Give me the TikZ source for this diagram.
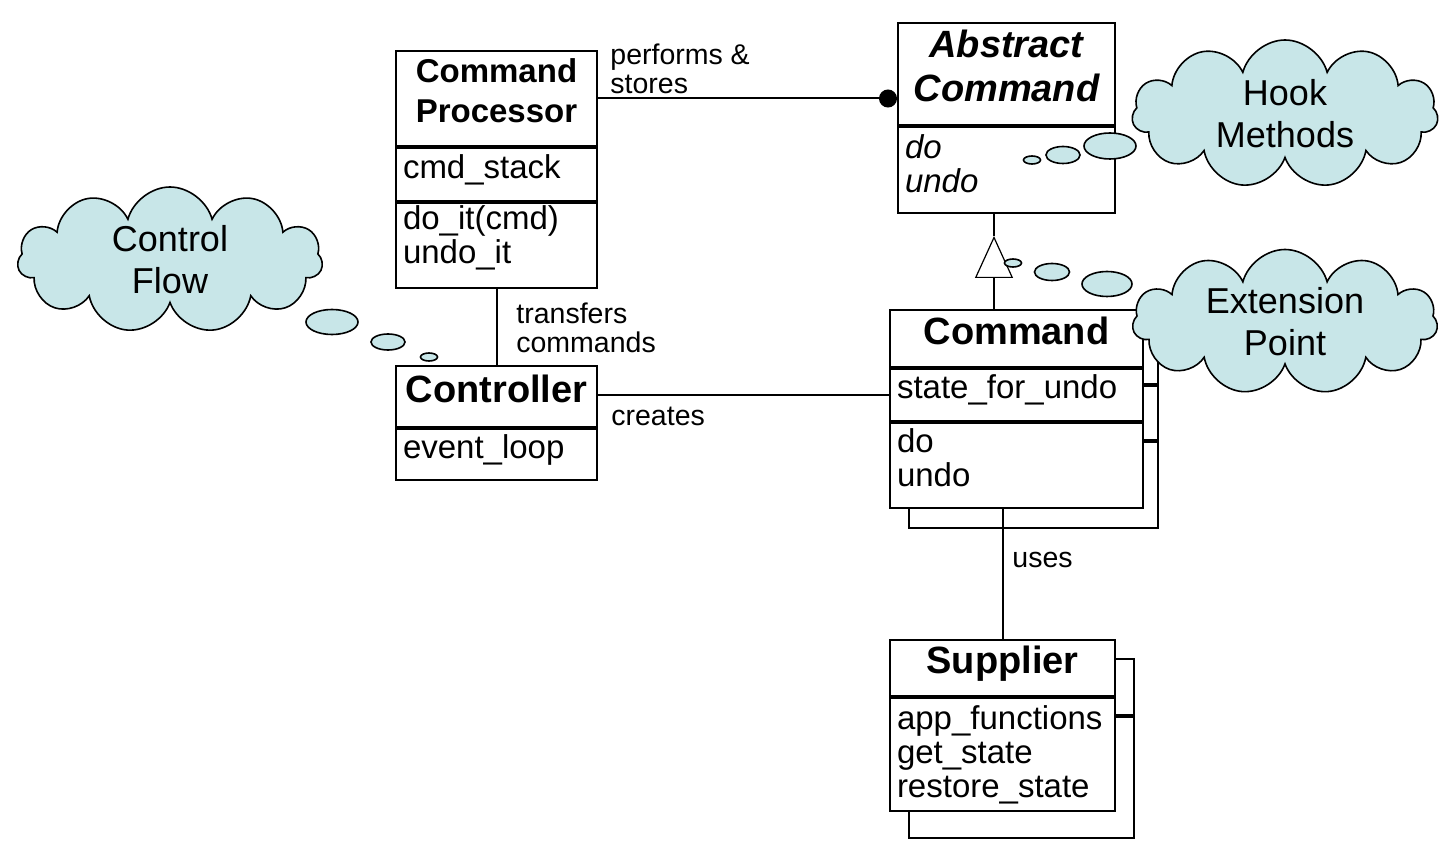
\documentclass[tikz,border=0pt]{standalone}
\usepackage{fontspec}
\setmainfont{Liberation Sans}
\usetikzlibrary{positioning,shapes.geometric,shapes.symbols,arrows.meta}

\definecolor{cloudfill}{RGB}{200,230,232}
\newcommand\umlattr{\fontsize{16.5}{17}\selectfont}
\newcommand\umlhead{\fontsize{19}{20}\selectfont\bfseries}
\newcommand\umlproc{\fontsize{16.5}{20}\selectfont\bfseries}
\newcommand\umllink{\fontsize{14.25}{14.5}\selectfont}
\newcommand\umlnote{\fontsize{18}{21}\selectfont}

\begin{document}
\begin{tikzpicture}[
        x=0.5pt, y=-0.5pt,
        classhead/.style={rectangle, draw, fill=white, line width=1pt, anchor=north west, align=center, inner sep=0pt, text depth=8pt, font=\umlhead},
        classpart/.style={rectangle, draw, fill=white, line width=1pt, align=left, inner xsep=3.5pt, inner ysep=0pt, text depth=8pt, font=\umlattr},
        link/.style={line width=1pt},
        linklabel/.style={anchor=north west, align=left, inner sep=0pt, font=\umllink},
        note/.style={cloud, cloud puffs=11, cloud ignores aspect, draw, line width=0.8pt, fill=cloudfill, align=center, inner sep=0pt, font=\umlnote},
        bubble/.style={ellipse, draw, line width=0.8pt, fill=cloudfill, inner sep=0pt}
    ]
        \useasboundingbox (0,0) rectangle (1448,850);

        % Command processor
        \node[classhead, minimum width=100.5pt, minimum height=47.5pt, font=\umlproc] (proc) at (395,50) {Command\\Processor};
        \node[classpart, below=0pt of proc, text width=93.5pt, minimum height=26.5pt] (procattr) {cmd\_stack};
        \node[classpart, below=0pt of procattr, text width=93.5pt, minimum height=42.5pt, text depth=28pt] (procops) {do\_it(cmd)\\undo\_it};

        % Abstract command
        \node[classhead, minimum width=108.5pt, minimum height=51pt, font=\fontsize{19}{22}\selectfont\bfseries\itshape] (abstract) at (897,22) {Abstract\\Command};
        \node[classpart, below=0pt of abstract, text width=101.5pt, minimum height=43pt, text depth=23pt, font=\umlattr\itshape] (abstractops) {do\\undo};

        % Controller
        \node[classhead, minimum width=100.5pt, minimum height=30.5pt] (ctrl) at (395,365) {Controller};
        \node[classpart, below=0pt of ctrl, text width=93.5pt, minimum height=25.5pt] (ctrlattr) {event\_loop};

        % Command with the copies behind it
        \node[classpart, anchor=north west, minimum width=124.5pt, minimum height=27.5pt] (cmdback) at (908,328) {};
        \node[classpart, below=0pt of cmdback, minimum width=124.5pt, minimum height=27pt] (cmdbackattr) {};
        \node[classpart, below=0pt of cmdbackattr, minimum width=124.5pt, minimum height=43pt] (cmdbackops) {};
        \node[classhead, minimum width=126.5pt, minimum height=28.5pt] (cmd) at (889,309) {Command};
        \node[classpart, below=0pt of cmd, text width=119.5pt, minimum height=26pt] (cmdattr) {state\_for\_undo};
        \node[classpart, below=0pt of cmdattr, text width=119.5pt, minimum height=42.5pt, text depth=25pt] (cmdops) {do\\undo};

        % Supplier with the copy behind it
        \node[classpart, anchor=north west, minimum width=112.5pt, minimum height=28pt] (supback) at (908,658) {};
        \node[classpart, below=0pt of supback, minimum width=112.5pt, minimum height=60.5pt] (supbackops) {};
        \node[classhead, minimum width=112.5pt, minimum height=28pt] (sup) at (889,639) {Supplier};
        \node[classpart, below=0pt of sup, text width=105.5pt, minimum height=56.5pt, text depth=37pt] (supops) {app\_functions\\get\_state\\restore\_state};

        % Links
        \draw[link, -{Circle[length=9pt]}] (proc.east) -- (proc.east -| abstract.west);
        \draw[link] (procops.south) -- (ctrl.north);
        \draw[link] (cmdattr.west) -- (cmdattr.west -| ctrl.east);
        \coordinate (gentip) at (994,236);
        \draw[link, -{Triangle[open, length=21pt, width=19pt, line width=0.6pt]}] (cmd.north -| gentip) -- (gentip);
        \draw[link] (gentip) -- (abstractops.south -| gentip);
        \draw[link] (sup.north) -- (sup.north |- cmdops.south);

        % Link labels
        \node[linklabel] (performs) at (610,43) {performs \&\\stores};
        \node[linklabel] (transfers) at (516,302) {transfers\\commands};
        \node[linklabel] (creates) at (611,407) {creates};
        \node[linklabel] (uses) at (1012,552) {uses};

        % Notes
        \node[note, minimum width=152.5pt, minimum height=73pt] (flow) at (170,260) {Control\\Flow};
        \node[bubble, minimum width=26pt, minimum height=12.5pt] (flowa) at (332,322) {};
        \node[bubble, minimum width=17pt, minimum height=8pt] (flowb) at (388,342) {};
        \node[bubble, minimum width=8.5pt, minimum height=4pt] (flowc) at (429,357) {};

        \node[note, minimum width=153pt, minimum height=74pt] (hook) at (1285,114) {Hook\\Methods};
        \node[bubble, minimum width=26pt, minimum height=13pt] (hooka) at (1110,146) {};
        \node[bubble, minimum width=17pt, minimum height=8.5pt] (hookb) at (1063,155) {};
        \node[bubble, minimum width=8.5pt, minimum height=4pt] (hookc) at (1032,160) {};

        \node[note, minimum width=152.5pt, minimum height=72.5pt] (ext) at (1285,322) {Extension\\Point};
        \node[bubble, minimum width=25pt, minimum height=12.5pt] (exta) at (1107,284) {};
        \node[bubble, minimum width=17.5pt, minimum height=8.5pt] (extb) at (1052,272) {};
        \node[bubble, minimum width=8.5pt, minimum height=4pt] (extc) at (1013,263) {};
    \end{tikzpicture}
\end{document}
